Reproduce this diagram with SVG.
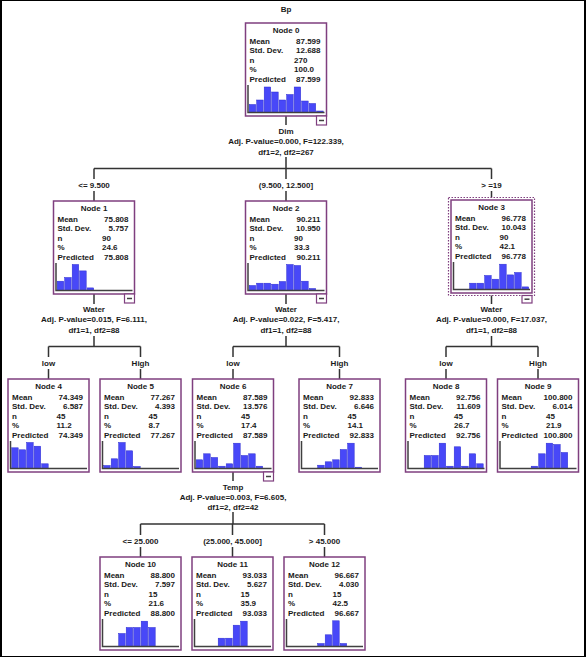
<svg xmlns="http://www.w3.org/2000/svg" width="586" height="657" viewBox="0 0 586 657">
<style>
text{font-family:"Liberation Sans",Arial,sans-serif;font-size:8px;font-weight:bold;fill:#1a1a1a}
.m{text-anchor:middle}
.v{text-anchor:end}
.box{fill:#fff;stroke:#7f3f7f;stroke-width:1.5}
.sel{fill:none;stroke:#7f3f7f;stroke-width:1.2;stroke-dasharray:1.5 1.5}
.bar{fill:#4848f8;stroke:#2a2ad0;stroke-width:0.5}
.ax{fill:none;stroke:#404040;stroke-width:1.5}
.col{fill:#fff;stroke:#7f3f7f;stroke-width:1.2}
.dash{stroke:#404040;stroke-width:1.5}
.c{fill:none;stroke:#333;stroke-width:1.5}
.fr{fill:none;stroke:#000}
</style>
<path class="fr" stroke-width="2" d="M1,0 V657 M585,0 V657"/>
<path class="fr" stroke-width="1" d="M0,0.5 H586 M0,656.5 H586"/>
<text class="m" x="286" y="12">Bp</text>

<g id="connectors">
<path class="c" d="M286,116 V125 M286,157 V168.5 M94,168.5 H491.5 M94,168.5 V179 M94,191 V201 M286,168.5 V179 M286,191 V201 M491.5,168.5 V179 M491.5,191 V197.5"/>
<path class="c" d="M94,294 V304 M94,336 V346.5 M48.5,346.5 H140.5 M48.5,346.5 V357 M48.5,369 V379 M140.5,346.5 V357 M140.5,369 V379"/>
<path class="c" d="M286,294 V304 M286,336 V346.5 M233,346.5 H339.5 M233,346.5 V357 M233,369 V379 M339.5,346.5 V357 M339.5,369 V379"/>
<path class="c" d="M491.5,295.5 V304 M491.5,336 V346.5 M446,346.5 H538 M446,346.5 V357 M446,369 V379 M538,346.5 V357 M538,369 V379"/>
<path class="c" d="M233,472 V481 M233,512 V524 M140.5,524 H324.5 M140.5,524 V535 M140.5,547 V557 M232.5,524 V535 M232.5,547 V557 M324.5,524 V535 M324.5,547 V557"/>
</g>

<g id="split-labels">
<text class="m" x="286" y="133.5">Dim</text>
<text class="m" x="286" y="144">Adj. P-value=0.000, F=122.339,</text>
<text class="m" x="286" y="154.5">df1=2, df2=267</text>
<text class="m" x="94" y="188">&lt;= 9.500</text>
<text class="m" x="286" y="188">(9.500, 12.500]</text>
<text class="m" x="491.5" y="188">&gt; =19</text>
<text class="m" x="94" y="311.5">Water</text>
<text class="m" x="94" y="322">Adj. P-value=0.015, F=6.111,</text>
<text class="m" x="94" y="332.5">df1=1, df2=88</text>
<text class="m" x="286" y="311.5">Water</text>
<text class="m" x="286" y="322">Adj. P-value=0.022, F=5.417,</text>
<text class="m" x="286" y="332.5">df1=1, df2=88</text>
<text class="m" x="491.5" y="311.5">Water</text>
<text class="m" x="491.5" y="322">Adj. P-value=0.000, F=17.037,</text>
<text class="m" x="491.5" y="332.5">df1=1, df2=88</text>
<text class="m" x="48.5" y="366">low</text>
<text class="m" x="140.5" y="366">High</text>
<text class="m" x="233" y="366">low</text>
<text class="m" x="339.5" y="366">High</text>
<text class="m" x="446" y="366">low</text>
<text class="m" x="538" y="366">High</text>
<text class="m" x="233" y="489.5">Temp</text>
<text class="m" x="233" y="499.5">Adj. P-value=0.003, F=6.605,</text>
<text class="m" x="233" y="510">df1=2, df2=42</text>
<text class="m" x="140.5" y="544">&lt;= 25.000</text>
<text class="m" x="232.5" y="544">(25.000, 45.000]</text>
<text class="m" x="324.5" y="544">&gt; 45.000</text>
</g>

<g id="node0" transform="translate(245.5,23)">
<rect class="box" width="81" height="93"/>
<text class="m" x="40.5" y="10">Node 0</text>
<text x="4" y="20.5">Mean</text><text class="v" x="75" y="20.5">87.599</text>
<text x="4" y="30">Std. Dev.</text><text class="v" x="75" y="30">12.688</text>
<text x="4" y="39.5">n</text><text x="48.5" y="39.5">270</text>
<text x="4" y="49">%</text><text x="48.5" y="49">100.0</text>
<text x="4" y="58.5">Predicted</text><text class="v" x="75" y="58.5">87.599</text>
<rect class="bar" x="3.7" y="81.5" width="6.5" height="8"/>
<rect class="bar" x="11.2" y="77" width="6.5" height="12.5"/>
<rect class="bar" x="18.7" y="64" width="6.5" height="25.5"/>
<rect class="bar" x="26.2" y="69" width="6.5" height="20.5"/>
<rect class="bar" x="33.7" y="77" width="6.5" height="12.5"/>
<rect class="bar" x="41.2" y="71.5" width="6.5" height="18"/>
<rect class="bar" x="48.7" y="64" width="6.5" height="25.5"/>
<rect class="bar" x="56.2" y="78" width="6.5" height="11.5"/>
<rect class="bar" x="63.7" y="80.5" width="6.5" height="9"/>
<rect class="bar" x="71.2" y="88" width="6.5" height="1.5"/>
<path class="ax" d="M2.5,62 V89.5 H79"/>
<rect class="col" x="71" y="93" width="10" height="9"/><path class="dash" d="M73.5,97.5 H78.5"/>
</g>

<g id="node1" transform="translate(53.5,201)">
<rect class="box" width="81" height="93"/>
<text class="m" x="40.5" y="10">Node 1</text>
<text x="4" y="20.5">Mean</text><text class="v" x="75" y="20.5">75.808</text>
<text x="4" y="30">Std. Dev.</text><text class="v" x="75" y="30">5.757</text>
<text x="4" y="39.5">n</text><text x="48.5" y="39.5">90</text>
<text x="4" y="49">%</text><text x="48.5" y="49">24.6</text>
<text x="4" y="58.5">Predicted</text><text class="v" x="75" y="58.5">75.808</text>
<rect class="bar" x="3.7" y="80.2" width="6.5" height="9.3"/>
<rect class="bar" x="11.2" y="76.5" width="6.5" height="13"/>
<rect class="bar" x="18.7" y="63.5" width="6.5" height="26"/>
<rect class="bar" x="26.2" y="69.9" width="6.5" height="19.6"/>
<rect class="bar" x="33.7" y="86.9" width="6.5" height="2.6"/>
<path class="ax" d="M2.5,62 V89.5 H79"/>
<rect class="col" x="71" y="93" width="10" height="9"/><path class="dash" d="M73.5,97.5 H78.5"/>
</g>

<g id="node2" transform="translate(245.5,201)">
<rect class="box" width="81" height="93"/>
<text class="m" x="40.5" y="10">Node 2</text>
<text x="4" y="20.5">Mean</text><text class="v" x="75" y="20.5">90.211</text>
<text x="4" y="30">Std. Dev.</text><text class="v" x="75" y="30">10.950</text>
<text x="4" y="39.5">n</text><text x="48.5" y="39.5">90</text>
<text x="4" y="49">%</text><text x="48.5" y="49">33.3</text>
<text x="4" y="58.5">Predicted</text><text class="v" x="75" y="58.5">90.211</text>
<rect class="bar" x="3.7" y="84.5" width="6.5" height="5"/>
<rect class="bar" x="11.2" y="82.2" width="6.5" height="7.3"/>
<rect class="bar" x="18.7" y="82.2" width="6.5" height="7.3"/>
<rect class="bar" x="26.2" y="83.2" width="6.5" height="6.3"/>
<rect class="bar" x="33.7" y="80.5" width="6.5" height="9"/>
<rect class="bar" x="41.2" y="63.5" width="6.5" height="26"/>
<rect class="bar" x="48.7" y="64.5" width="6.5" height="25"/>
<rect class="bar" x="56.2" y="80.2" width="6.5" height="9.3"/>
<rect class="bar" x="63.7" y="87.5" width="6.5" height="2"/>
<path class="ax" d="M2.5,62 V89.5 H79"/>
<rect class="col" x="71" y="93" width="10" height="9"/><path class="dash" d="M73.5,97.5 H78.5"/>
</g>

<g id="node3" transform="translate(451,200)">
<rect class="sel" x="-2.5" y="-2.5" width="86" height="98"/>
<rect class="box" width="81" height="93"/>
<text class="m" x="40.5" y="10">Node 3</text>
<text x="4" y="20.5">Mean</text><text class="v" x="75" y="20.5">96.778</text>
<text x="4" y="30">Std. Dev.</text><text class="v" x="75" y="30">10.043</text>
<text x="4" y="39.5">n</text><text x="48.5" y="39.5">90</text>
<text x="4" y="49">%</text><text x="48.5" y="49">42.1</text>
<text x="4" y="58.5">Predicted</text><text class="v" x="75" y="58.5">96.778</text>
<rect class="bar" x="18.7" y="83.2" width="6.5" height="6.3"/>
<rect class="bar" x="26.2" y="83.2" width="6.5" height="6.3"/>
<rect class="bar" x="33.7" y="75.5" width="6.5" height="14"/>
<rect class="bar" x="41.2" y="79.2" width="6.5" height="10.3"/>
<rect class="bar" x="48.7" y="64.2" width="6.5" height="25.3"/>
<rect class="bar" x="56.2" y="74.9" width="6.5" height="14.6"/>
<rect class="bar" x="63.7" y="72.5" width="6.5" height="17"/>
<rect class="bar" x="71.2" y="86.9" width="6.5" height="2.6"/>
<path class="ax" d="M2.5,62 V89.5 H79"/>
<rect class="col" x="71" y="95.5" width="10" height="7.5"/><path class="dash" d="M73.5,99.2 H78.5"/>
</g>

<g id="node4" transform="translate(8,379)">
<rect class="box" width="81" height="93"/>
<text class="m" x="40.5" y="10">Node 4</text>
<text x="4" y="20.5">Mean</text><text class="v" x="75" y="20.5">74.349</text>
<text x="4" y="30">Std. Dev.</text><text class="v" x="75" y="30">6.587</text>
<text x="4" y="39.5">n</text><text x="48.5" y="39.5">45</text>
<text x="4" y="49">%</text><text x="48.5" y="49">11.2</text>
<text x="4" y="58.5">Predicted</text><text class="v" x="75" y="58.5">74.349</text>
<rect class="bar" x="3.7" y="68.8" width="6.5" height="20.7"/>
<rect class="bar" x="11.2" y="70.8" width="6.5" height="18.7"/>
<rect class="bar" x="18.7" y="63.5" width="6.5" height="26"/>
<rect class="bar" x="26.2" y="67.2" width="6.5" height="22.3"/>
<rect class="bar" x="33.7" y="84.8" width="6.5" height="4.7"/>
<path class="ax" d="M2.5,62 V89.5 H79"/>
</g>

<g id="node5" transform="translate(100,379)">
<rect class="box" width="81" height="93"/>
<text class="m" x="40.5" y="10">Node 5</text>
<text x="4" y="20.5">Mean</text><text class="v" x="75" y="20.5">77.267</text>
<text x="4" y="30">Std. Dev.</text><text class="v" x="75" y="30">4.393</text>
<text x="4" y="39.5">n</text><text x="48.5" y="39.5">45</text>
<text x="4" y="49">%</text><text x="48.5" y="49">8.7</text>
<text x="4" y="58.5">Predicted</text><text class="v" x="75" y="58.5">77.267</text>
<rect class="bar" x="3.7" y="86.5" width="6.5" height="3"/>
<rect class="bar" x="11.2" y="79.8" width="6.5" height="9.7"/>
<rect class="bar" x="18.7" y="63.5" width="6.5" height="26"/>
<rect class="bar" x="26.2" y="71.8" width="6.5" height="17.7"/>
<rect class="bar" x="33.7" y="87.5" width="6.5" height="2"/>
<path class="ax" d="M2.5,62 V89.5 H79"/>
</g>

<g id="node6" transform="translate(192.5,379)">
<rect class="box" width="81" height="93"/>
<text class="m" x="40.5" y="10">Node 6</text>
<text x="4" y="20.5">Mean</text><text class="v" x="75" y="20.5">87.589</text>
<text x="4" y="30">Std. Dev.</text><text class="v" x="75" y="30">13.576</text>
<text x="4" y="39.5">n</text><text x="48.5" y="39.5">45</text>
<text x="4" y="49">%</text><text x="48.5" y="49">17.4</text>
<text x="4" y="58.5">Predicted</text><text class="v" x="75" y="58.5">87.589</text>
<rect class="bar" x="3.7" y="80.8" width="6.5" height="8.7"/>
<rect class="bar" x="11.2" y="74.8" width="6.5" height="14.7"/>
<rect class="bar" x="18.7" y="78.5" width="6.5" height="11"/>
<rect class="bar" x="26.2" y="87.2" width="6.5" height="2.3"/>
<rect class="bar" x="33.7" y="84.8" width="6.5" height="4.7"/>
<rect class="bar" x="41.2" y="64.2" width="6.5" height="25.3"/>
<rect class="bar" x="48.7" y="76.5" width="6.5" height="13"/>
<rect class="bar" x="56.2" y="74.8" width="6.5" height="14.7"/>
<rect class="bar" x="63.7" y="87.2" width="6.5" height="2.3"/>
<path class="ax" d="M2.5,62 V89.5 H79"/>
<rect class="col" x="71" y="93" width="10" height="9"/><path class="dash" d="M73.5,97.5 H78.5"/>
</g>

<g id="node7" transform="translate(299,379)">
<rect class="box" width="81" height="93"/>
<text class="m" x="40.5" y="10">Node 7</text>
<text x="4" y="20.5">Mean</text><text class="v" x="75" y="20.5">92.833</text>
<text x="4" y="30">Std. Dev.</text><text class="v" x="75" y="30">6.646</text>
<text x="4" y="39.5">n</text><text x="48.5" y="39.5">45</text>
<text x="4" y="49">%</text><text x="48.5" y="49">14.1</text>
<text x="4" y="58.5">Predicted</text><text class="v" x="75" y="58.5">92.833</text>
<rect class="bar" x="18.7" y="86.2" width="6.5" height="3.3"/>
<rect class="bar" x="26.2" y="82.8" width="6.5" height="6.7"/>
<rect class="bar" x="33.7" y="80.8" width="6.5" height="8.7"/>
<rect class="bar" x="41.2" y="70.5" width="6.5" height="19"/>
<rect class="bar" x="48.7" y="64.2" width="6.5" height="25.3"/>
<rect class="bar" x="56.2" y="88.2" width="6.5" height="1.3"/>
<path class="ax" d="M2.5,62 V89.5 H79"/>
</g>

<g id="node8" transform="translate(405.5,379)">
<rect class="box" width="81" height="93"/>
<text class="m" x="40.5" y="10">Node 8</text>
<text x="4" y="20.5">Mean</text><text class="v" x="75" y="20.5">92.756</text>
<text x="4" y="30">Std. Dev.</text><text class="v" x="75" y="30">11.609</text>
<text x="4" y="39.5">n</text><text x="48.5" y="39.5">45</text>
<text x="4" y="49">%</text><text x="48.5" y="49">26.7</text>
<text x="4" y="58.5">Predicted</text><text class="v" x="75" y="58.5">92.756</text>
<rect class="bar" x="18.7" y="76.5" width="6.5" height="13"/>
<rect class="bar" x="26.2" y="76.5" width="6.5" height="13"/>
<rect class="bar" x="33.7" y="64.2" width="6.5" height="25.3"/>
<rect class="bar" x="41.2" y="87.2" width="6.5" height="2.3"/>
<rect class="bar" x="48.7" y="67.8" width="6.5" height="21.7"/>
<rect class="bar" x="56.2" y="87.2" width="6.5" height="2.3"/>
<rect class="bar" x="63.7" y="74.8" width="6.5" height="14.7"/>
<rect class="bar" x="71.2" y="84.8" width="6.5" height="4.7"/>
<path class="ax" d="M2.5,62 V89.5 H79"/>
</g>

<g id="node9" transform="translate(497.5,379)">
<rect class="box" width="81" height="93"/>
<text class="m" x="40.5" y="10">Node 9</text>
<text x="4" y="20.5">Mean</text><text class="v" x="75" y="20.5">100.800</text>
<text x="4" y="30">Std. Dev.</text><text class="v" x="75" y="30">6.014</text>
<text x="4" y="39.5">n</text><text x="48.5" y="39.5">45</text>
<text x="4" y="49">%</text><text x="48.5" y="49">21.9</text>
<text x="4" y="58.5">Predicted</text><text class="v" x="75" y="58.5">100.800</text>
<rect class="bar" x="33.7" y="87.2" width="6.5" height="2.3"/>
<rect class="bar" x="41.2" y="74.8" width="6.5" height="14.7"/>
<rect class="bar" x="48.7" y="64.2" width="6.5" height="25.3"/>
<rect class="bar" x="56.2" y="65.5" width="6.5" height="24"/>
<rect class="bar" x="63.7" y="73.5" width="6.5" height="16"/>
<path class="ax" d="M2.5,62 V89.5 H79"/>
</g>

<g id="node10" transform="translate(100,557)">
<rect class="box" width="81" height="93"/>
<text class="m" x="40.5" y="10">Node 10</text>
<text x="4" y="20.5">Mean</text><text class="v" x="75" y="20.5">88.800</text>
<text x="4" y="30">Std. Dev.</text><text class="v" x="75" y="30">7.597</text>
<text x="4" y="39.5">n</text><text x="48.5" y="39.5">15</text>
<text x="4" y="49">%</text><text x="48.5" y="49">21.6</text>
<text x="4" y="58.5">Predicted</text><text class="v" x="75" y="58.5">88.800</text>
<rect class="bar" x="18.7" y="76.5" width="6.5" height="13"/>
<rect class="bar" x="26.2" y="70.5" width="6.5" height="19"/>
<rect class="bar" x="33.7" y="70.5" width="6.5" height="19"/>
<rect class="bar" x="41.2" y="64.2" width="6.5" height="25.3"/>
<rect class="bar" x="48.7" y="70.5" width="6.5" height="19"/>
<path class="ax" d="M2.5,62 V89.5 H79"/>
</g>

<g id="node11" transform="translate(192,557)">
<rect class="box" width="81" height="93"/>
<text class="m" x="40.5" y="10">Node 11</text>
<text x="4" y="20.5">Mean</text><text class="v" x="75" y="20.5">93.033</text>
<text x="4" y="30">Std. Dev.</text><text class="v" x="75" y="30">5.627</text>
<text x="4" y="39.5">n</text><text x="48.5" y="39.5">15</text>
<text x="4" y="49">%</text><text x="48.5" y="49">35.9</text>
<text x="4" y="58.5">Predicted</text><text class="v" x="75" y="58.5">93.033</text>
<rect class="bar" x="26.2" y="81.2" width="6.5" height="8.3"/>
<rect class="bar" x="33.7" y="81.2" width="6.5" height="8.3"/>
<rect class="bar" x="41.2" y="68.2" width="6.5" height="21.3"/>
<rect class="bar" x="48.7" y="64.2" width="6.5" height="25.3"/>
<path class="ax" d="M2.5,62 V89.5 H79"/>
</g>

<g id="node12" transform="translate(284,557)">
<rect class="box" width="81" height="93"/>
<text class="m" x="40.5" y="10">Node 12</text>
<text x="4" y="20.5">Mean</text><text class="v" x="75" y="20.5">96.667</text>
<text x="4" y="30">Std. Dev.</text><text class="v" x="75" y="30">4.030</text>
<text x="4" y="39.5">n</text><text x="48.5" y="39.5">15</text>
<text x="4" y="49">%</text><text x="48.5" y="49">42.5</text>
<text x="4" y="58.5">Predicted</text><text class="v" x="75" y="58.5">96.667</text>
<rect class="bar" x="33.7" y="86.5" width="6.5" height="3"/>
<rect class="bar" x="41.2" y="77.8" width="6.5" height="11.7"/>
<rect class="bar" x="48.7" y="63.8" width="6.5" height="25.7"/>
<rect class="bar" x="56.2" y="86.5" width="6.5" height="3"/>
<path class="ax" d="M2.5,62 V89.5 H79"/>
</g>
</svg>
